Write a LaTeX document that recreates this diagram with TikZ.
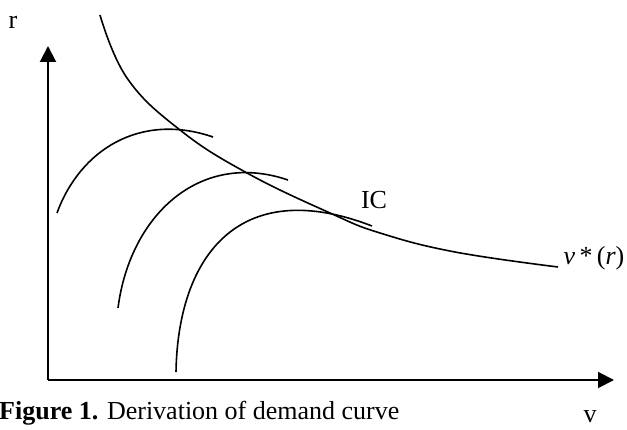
\documentclass[tikz,border=0pt]{standalone}
\usepackage{fontspec}
\setmainfont{Liberation Serif}
\usetikzlibrary{arrows.meta}
\tikzset{
    axis/.style={line width=2pt, -{Triangle[length=16pt,width=16pt]}},
    ic/.style={line width=1.6pt},
    lbl/.style={font=\fontsize{26}{30}\selectfont, inner sep=0pt}
}
\begin{document}
\begin{tikzpicture}[x=1pt, y=1pt]
    \useasboundingbox (0,0) rectangle (627,430);
    % axes
    \coordinate (o) at (48,50);
    \coordinate (rtop) at (48,384);
    \coordinate (vend) at (614,50);
    \draw[axis] (o) -- (rtop);
    \draw[axis] (o) -- (vend);
    \node[lbl] (rlabel) at (13,408) {r};
    \node[lbl] (vlabel) at (590,13) {v};
    % demand curve v*(r)
    \draw[ic, smooth, tension=0.7] plot coordinates {(100,415) (127,352) (180,300) (247,257) (330,217) (380,197) (455,178) (558,163)};
    % indifference curves
    \draw[ic] (57,217) .. controls (80,280) and (140,318) .. (213,293);
    \draw[ic] (118,122) .. controls (130,215) and (200,280) .. (288,250);
    \draw[ic] (176,58) .. controls (178,175) and (240,255) .. (372,204);
    \node[lbl] (iclabel) at (374,230) {IC};
    \node[lbl] (vstar) at (594,172) {\itshape v\,\normalfont*\,(\itshape r\normalfont)};
    % caption
    \node[lbl, anchor=west] (caption) at (-1,17) {\textbf{Figure 1.} Derivation of demand curve};
\end{tikzpicture}
\end{document}
